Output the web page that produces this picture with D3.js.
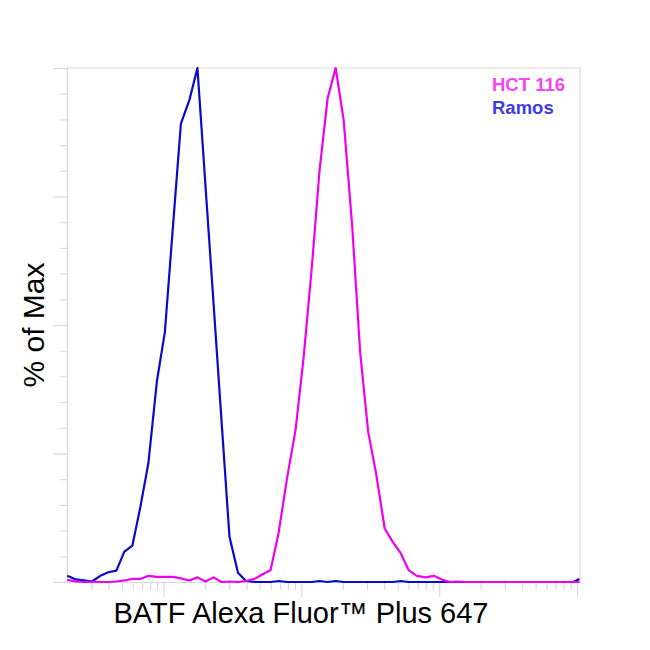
<!DOCTYPE html>
<html>
<head>
<meta charset="utf-8">
<script src="https://cdn.jsdelivr.net/npm/d3@7"></script>
<style>
  body { margin: 0; background: #fff; }
  .axis path, .axis line { stroke: #d9d9d9; stroke-width: 1.2; }
  .axis text { display: none; }
</style>
</head>
<body>
<div id="chart-area"></div>
<script>

// Histogram bins (fluorescence intensity) and % of max per sample
var intensity = [201, 232, 265, 303, 349, 399, 456, 521, 596, 681, 778, 897, 1025, 1172, 1340, 1545,
    1766, 2018, 2307, 2638, 3015, 3475, 3973, 4580, 5236, 5985, 6842, 7886, 9092, 10390, 11880,
    13580, 15520, 17750, 20290, 23390, 26730, 30560, 34940, 40270, 46030, 52620, 60150, 68770,
    79920, 91360, 104400, 119400, 136500, 157300, 181400, 209100, 238900, 275500, 315000, 360000,
    415000, 474500, 546800, 625200, 714500, 817000, 933700, 1040000];

var hct116 = [0.4, 0.1, 0, 0, 0, 0, 0.1, 0.3, 0.6, 0.6, 1.2, 1.0, 1.0, 1.0, 0.7, 0.3,
    0.9, 0.1, 0.9, 0, 0.1, 0, 0.2, 0.6, 1.5, 2.3, 9.5, 20.2, 29.6, 43.6, 60.7,
    80.2, 94.1, 100, 89.9, 69.3, 44.7, 29.2, 21.0, 10.4, 7.8, 5.6, 2.3, 1.2,
    0.9, 1.2, 0.5, 0, 0.1, 0, 0, 0, 0, 0, 0, 0,
    0, 0, 0, 0, 0, 0, 0, 0];

var ramos = [1.2, 0.5, 0.3, 0.1, 1.2, 1.9, 2.2, 5.9, 7.1, 14.6, 23.1, 39.0, 48.6, 69.0, 89.2, 93.8,
    100, 77.2, 54.5, 31.5, 8.8, 1.8, 0.2, 0, 0, 0, 0.2, 0, 0, 0, 0,
    0.2, 0, 0.2, 0, 0, 0, 0, 0, 0, 0, 0.2, 0, 0,
    0, 0, 0, 0, 0, 0, 0, 0, 0, 0, 0, 0,
    0, 0, 0, 0, 0, 0, 0, 0.6];

var seriesNames = ["HCT 116", "Ramos"];
var lineColors = ["#ee00ee", "#0a0acc"];
var legendColors = ["#f545f0", "#3c3ce6"];

var yMajorTicks = [0, 25, 50, 75, 100];
var yMinorTicks = [5, 10, 15, 20, 30, 35, 40, 45, 55, 60, 65, 70, 80, 85, 90, 95];
var xMajorTicks = [1e3, 1e4, 1e5, 1e6];

// Set up SVG
var margin = {top: 68, right: 70, bottom: 68, left: 67};
var width = 650 - margin.left - margin.right,
    height = 650 - margin.top - margin.bottom;

var svg = d3.select("#chart-area").append("svg")
    .attr("width", 650)
    .attr("height", 650);

var g = svg.append("g")
    .attr("transform", "translate(" + margin.left + "," + margin.top + ")");

var x = d3.scaleLog()
    .domain([200, 1.05e6])
    .range([0, width]);

var y = d3.scaleLinear()
    .domain([0, 100])
    .range([height, 0]);

var xMinorTicks = x.ticks().filter(function(d) {
    return xMajorTicks.indexOf(d) < 0 && d > 200;
});

// frame (top + right)
g.append("path")
    .attr("d", "M0,0H" + width + "V" + height)
    .attr("fill", "none")
    .attr("stroke", "#d9d9d9")
    .attr("stroke-width", 1.2);

// axes
g.append("g").attr("class", "axis")
    .call(d3.axisLeft(y).tickValues(yMinorTicks).tickSize(7).tickSizeOuter(0));
g.append("g").attr("class", "axis")
    .call(d3.axisLeft(y).tickValues(yMajorTicks).tickSize(14).tickSizeOuter(0));

g.append("g").attr("class", "axis")
    .attr("transform", "translate(0," + height + ")")
    .call(d3.axisBottom(x).tickValues(xMinorTicks).tickSize(8).tickSizeOuter(0));
g.append("g").attr("class", "axis")
    .attr("transform", "translate(0," + height + ")")
    .call(d3.axisBottom(x).tickValues(xMajorTicks).tickSize(15).tickSizeOuter(0));

// lines
var line = d3.line()
    .x(function(d) { return x(d[0]); })
    .y(function(d) { return y(d[1]); });

var seriesValues = [hct116, ramos];
[1, 0].forEach(function(i) {
    var pts = intensity.map(function(v, j) { return [v, seriesValues[i][j]]; });
    g.append("path")
        .datum(pts)
        .attr("d", line)
        .attr("fill", "none")
        .attr("stroke", lineColors[i])
        .attr("stroke-width", 2.2)
        .attr("stroke-linejoin", "round");
});

// legend
seriesNames.forEach(function(name, i) {
    g.append("text")
        .attr("x", 425)
        .attr("y", 23 + i * 23)
        .attr("fill", legendColors[i])
        .style("font-family", "'Liberation Sans', Arial, sans-serif")
        .style("font-weight", "bold")
        .style("font-size", "18.5px")
        .text(name);
});

// axis titles
svg.append("text")
    .attr("x", 301)
    .attr("y", 623)
    .attr("text-anchor", "middle")
    .style("font-family", "'Liberation Sans', Arial, sans-serif")
    .style("font-size", "29px")
    .attr("fill", "#000")
    .text("BATF Alexa Fluor™ Plus 647");

svg.append("text")
    .attr("transform", "translate(44,325) rotate(-90)")
    .attr("text-anchor", "middle")
    .style("font-family", "'Liberation Sans', Arial, sans-serif")
    .style("font-size", "30px")
    .attr("fill", "#000")
    .text("% of Max");

</script>
</body>
</html>
